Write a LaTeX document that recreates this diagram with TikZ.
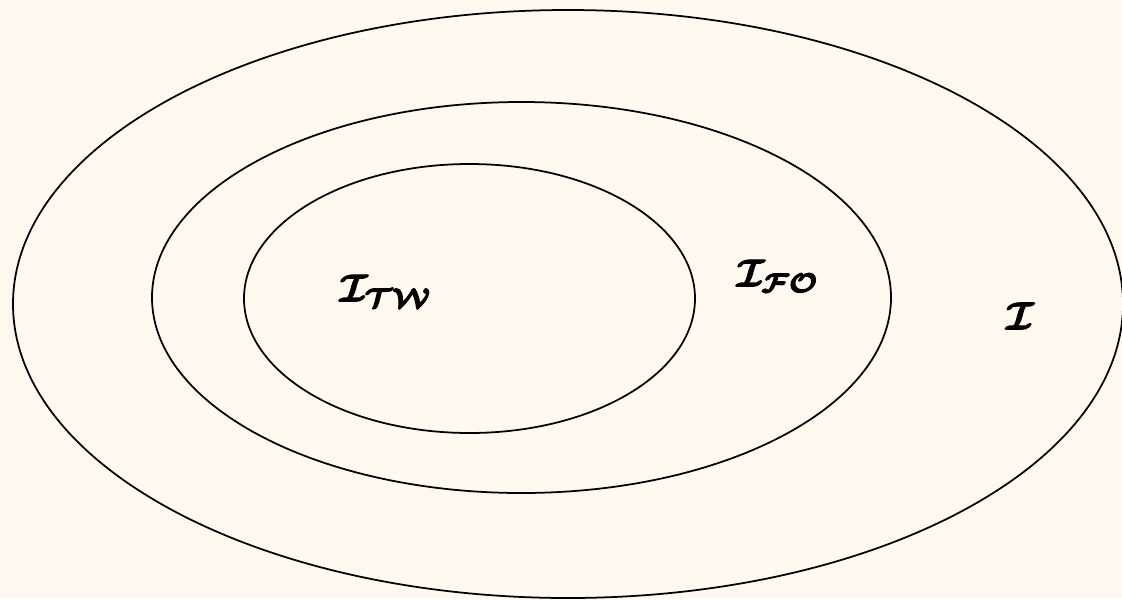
\documentclass[tikz,border=0pt]{standalone}
\usepackage{amsmath}
\definecolor{paper}{HTML}{FFF9EF}
\newcommand{\heavytext}{\special{pdf:literal direct 2 Tr 0.3 w}}

\begin{document}
\begin{tikzpicture}[x=0.02cm,y=-0.02cm,
    lbl/.style={scale=2.2,font=\boldmath}]
  \fill[paper] (0,0) rectangle (1122,599);
  \useasboundingbox (0,0) rectangle (1122,599);
  % nested classes
  \draw[line width=1pt] (568,304) ellipse [x radius=555,y radius=294];
  \draw[line width=1pt] (521.5,297.5) ellipse [x radius=369.5,y radius=195.5];
  \draw[line width=1pt] (469.5,298.5) ellipse [x radius=225.5,y radius=134.5];
  \node[lbl] (tw) at (386,291) {\heavytext$\mathcal{I}_{\mathcal{TW}}$};
  \node[lbl] (fo) at (778,276) {\heavytext$\mathcal{I}_{\mathcal{FO}}$};
  \node[lbl] (all) at (1020,316) {\heavytext$\mathcal{I}$};
\end{tikzpicture}
\end{document}
